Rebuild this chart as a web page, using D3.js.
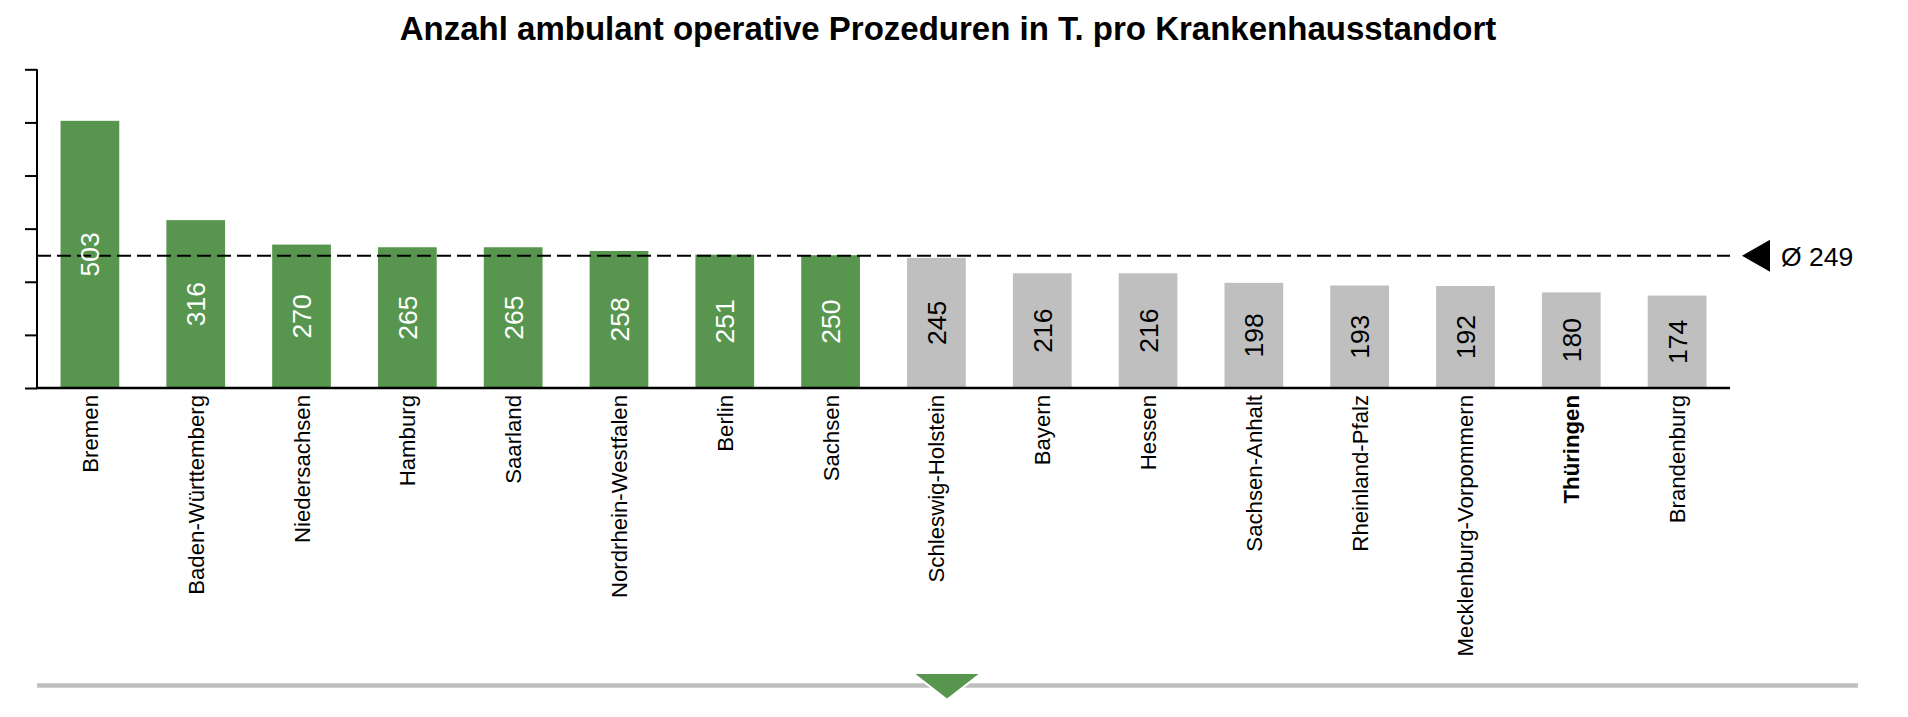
<!DOCTYPE html>
<html>
<head>
<meta charset="utf-8">
<script src="https://cdn.jsdelivr.net/npm/d3@7"></script>
<style>
  html, body { margin: 0; padding: 0; background: #fff; }
  svg { display: block; font-family: "Liberation Sans", Arial, Helvetica, sans-serif; }
</style>
</head>
<body>
<svg id="chart" width="1908" height="717"></svg>
<script>
const title = "Anzahl ambulant operative Prozeduren in T. pro Krankenhausstandort";
const categories = ["Bremen", "Baden-Württemberg", "Niedersachsen", "Hamburg", "Saarland",
  "Nordrhein-Westfalen", "Berlin", "Sachsen", "Schleswig-Holstein", "Bayern", "Hessen",
  "Sachsen-Anhalt", "Rheinland-Pfalz", "Mecklenburg-Vorpommern", "Thüringen", "Brandenburg"];
const values = [503, 316, 270, 265, 265, 258, 251, 250, 245, 216, 216, 198, 193, 192, 180, 174];
const average = 249;
const averageLabel = "Ø 249";
const highlighted = ["Thüringen"];
const yTicks = [0, 100, 200, 300, 400, 500, 600];

const svg = d3.select("#chart");
const green = "#58964f", grey = "#bfbfbf";

const x = d3.scaleBand().domain(categories).range([37, 1730]).paddingInner(0.445).paddingOuter(0.2225);
const y = d3.scaleLinear().domain([0, 600]).range([388, 69.3]);

// title
svg.append("text").attr("x", 948).attr("y", 40).attr("text-anchor", "middle")
  .attr("font-size", "33px").attr("font-weight", "bold").attr("fill", "#000").text(title);

// bars
svg.append("g").selectAll("rect").data(categories).join("rect")
  .attr("x", d => x(d)).attr("width", x.bandwidth())
  .attr("y", (d, i) => y(values[i])).attr("height", (d, i) => y(0) - y(values[i]))
  .attr("fill", (d, i) => values[i] > average ? green : grey);

// y axis (no labels)
const yAxis = svg.append("g").attr("transform", "translate(37,0)")
  .call(d3.axisLeft(y).tickValues(yTicks).tickSize(12).tickFormat(""));
yAxis.select(".domain").attr("d", `M0,${y(600)}V${y(0)}`).attr("stroke", "#000").attr("stroke-width", 2);
yAxis.selectAll(".tick line").attr("stroke", "#000").attr("stroke-width", 2);

// x axis
const xAxis = svg.append("g").attr("transform", `translate(0,${y(0)})`)
  .call(d3.axisBottom(x).tickSize(0).tickPadding(0));
xAxis.select(".domain").attr("d", `M36,0H1730`).attr("stroke", "#000").attr("stroke-width", 2.5);
xAxis.selectAll(".tick text")
  .attr("transform", "translate(0,7) rotate(-90)")
  .attr("text-anchor", "end").attr("x", 0).attr("y", 0).attr("dy", "0.36em")
  .attr("font-size", "22.2px").attr("fill", "#000")
  .attr("font-family", "'Liberation Sans', Arial, sans-serif")
  .attr("font-weight", d => highlighted.includes(d) ? "bold" : "normal");

// average line
svg.append("line").attr("x1", 37).attr("x2", 1730).attr("y1", y(average)).attr("y2", y(average))
  .attr("stroke", "#000").attr("stroke-width", 2).attr("stroke-dasharray", "14,6");
const ay = y(average);
svg.append("path").attr("d", `M1742,${ay}L1770,${ay - 16}L1770,${ay + 16}Z`).attr("fill", "#000");
svg.append("text").attr("x", 1781).attr("y", ay).attr("dy", "0.38em")
  .attr("font-size", "26.5px").attr("fill", "#000").text(averageLabel);

// value labels (drawn above the average line)
svg.append("g").selectAll("text").data(categories).join("text")
  .attr("transform", (d, i) => `translate(${x(d) + x.bandwidth() / 2},${(y(values[i]) + y(0)) / 2}) rotate(-90)`)
  .attr("text-anchor", "middle").attr("dy", "0.36em")
  .attr("font-size", "26.5px")
  .attr("fill", (d, i) => values[i] > average ? "#fff" : "#000")
  .text((d, i) => values[i]);

// bottom slider
svg.append("line").attr("x1", 37).attr("x2", 1858).attr("y1", 685.5).attr("y2", 685.5)
  .attr("stroke", grey).attr("stroke-width", 4.5);
svg.append("path").attr("d", "M915.5,674L978.5,674L947,698.5Z")
  .attr("fill", green).attr("stroke", "#fff").attr("stroke-width", 4).attr("stroke-linejoin", "miter");
svg.append("path").attr("d", "M915.5,674L978.5,674L947,698.5Z").attr("fill", green);
</script>
</body>
</html>
